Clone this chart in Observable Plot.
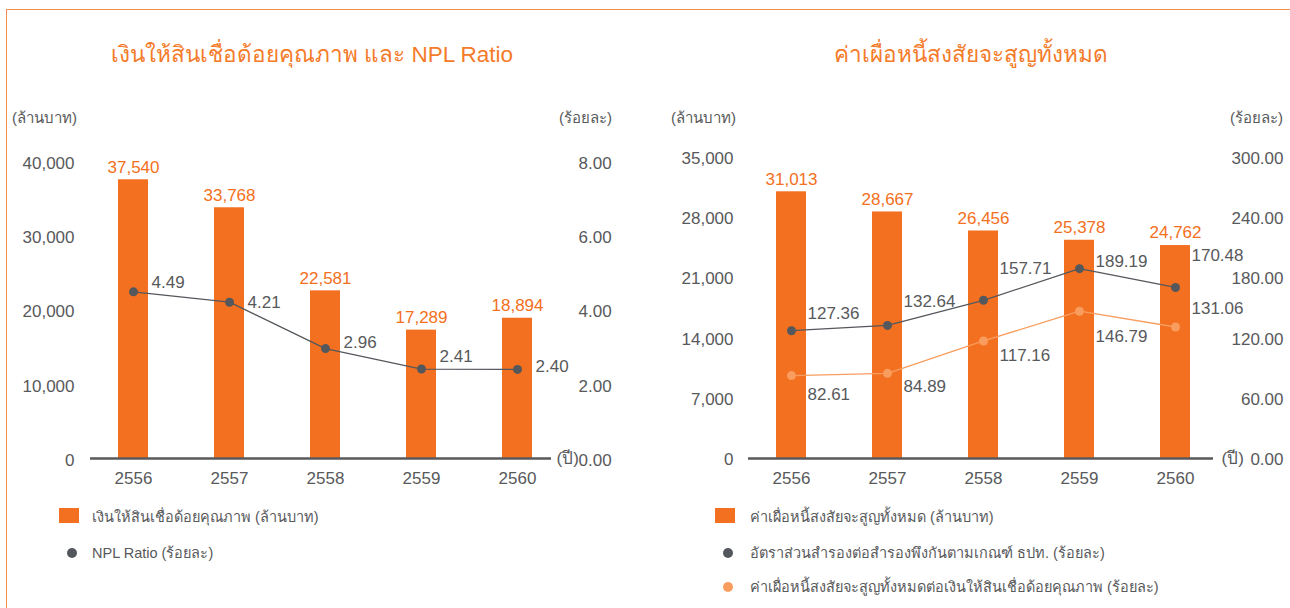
<!DOCTYPE html>
<html><head><meta charset="utf-8">
<script src="https://cdn.jsdelivr.net/npm/d3@7"></script>
<script src="https://cdn.jsdelivr.net/npm/@observablehq/plot@0.6"></script>
<style>
body{margin:0;width:1290px;height:608px;overflow:hidden;background:#fff;font-family:"Liberation Sans",Arial,sans-serif;position:relative;}
#frame{position:absolute;left:6px;top:9px;width:1300px;height:620px;border-top:1.5px solid #f58d4e;border-left:1.5px solid #f58d4e;}
.abs{position:absolute;white-space:nowrap;}
.title{color:#f47b2a;font-size:22.5px;transform:translate(-50%,-50%);}
.unit{font-size:15px;color:#58595b;transform:translateY(-50%);}
.unitR{font-size:15px;color:#58595b;transform:translate(-100%,-50%);}
.leg{font-size:14.5px;color:#58595b;transform:translateY(-50%);}
.sq{position:absolute;width:20px;height:15px;background:#f37021;}
.dot{position:absolute;width:10px;height:10px;border-radius:50%;transform:translate(-50%,-50%);}
.plot{position:absolute;top:130px;}
</style>
</head><body>
<div id="frame"></div>
<div class="abs title" style="left:312px;top:54px">เงินให้สินเชื่อด้อยคุณภาพ และ NPL Ratio</div>
<div class="abs title" style="left:971px;top:54px">ค่าเผื่อหนี้สงสัยจะสูญทั้งหมด</div>
<div class="abs unit" style="left:12px;top:118px">(ล้านบาท)</div>
<div class="abs unitR" style="left:612px;top:118px">(ร้อยละ)</div>
<div class="abs unit" style="left:671px;top:118px">(ล้านบาท)</div>
<div class="abs unitR" style="left:1283px;top:118px">(ร้อยละ)</div>

<div class="sq" style="left:59px;top:508px"></div>
<div class="abs leg" style="left:92px;top:516px">เงินให้สินเชื่อด้อยคุณภาพ (ล้านบาท)</div>
<div class="dot" style="left:72px;top:553px;background:#54585c"></div>
<div class="abs leg" style="left:92px;top:552px">NPL Ratio (ร้อยละ)</div>

<div class="sq" style="left:715px;top:508px"></div>
<div class="abs leg" style="left:750px;top:516px">ค่าเผื่อหนี้สงสัยจะสูญทั้งหมด (ล้านบาท)</div>
<div class="dot" style="left:728px;top:553px;background:#54585c"></div>
<div class="abs leg" style="left:750px;top:552px">อัตราส่วนสำรองต่อสำรองพึงกันตามเกณฑ์ ธปท. (ร้อยละ)</div>
<div class="dot" style="left:728px;top:587px;background:#f89d5e"></div>
<div class="abs leg" style="left:750px;top:586px">ค่าเผื่อหนี้สงสัยจะสูญทั้งหมดต่อเงินให้สินเชื่อด้อยคุณภาพ (ร้อยละ)</div>

<div id="left" class="plot" style="left:0px"></div>
<div id="right" class="plot" style="left:645px"></div>

<script>
// ---- data ----
const years = ["2556","2557","2558","2559","2560"];
const nplAmount = [37540, 33768, 22581, 17289, 18894];
const nplRatio = [4.49, 4.21, 2.96, 2.41, 2.40];
const allowance = [31013, 28667, 26456, 25378, 24762];
const coverageBOT = [127.36, 132.64, 157.71, 189.19, 170.48];
const coverageNPL = [82.61, 84.89, 117.16, 146.79, 131.06];
const leftTicks = [0, 10000, 20000, 30000, 40000];
const rightTicks = [0, 7000, 14000, 21000, 28000, 35000];

// ---- styling / layout ----
const ORANGE = "#f37021", DARK = "#54585c", LIGHT = "#f89d5e", GRAY = "#58595b";
const nplDy = [-9, 0, -6, -12, -3];
const botDy = [-17, -24, -32, -7, -32];
const covDy = [19, 13, 15, 25, -18];

const leftData = years.map((y, i) => ({year: y, amount: nplAmount[i], ratio: nplRatio[i]}));
const rightData = years.map((y, i) => ({year: y, amount: allowance[i], bot: coverageBOT[i], cov: coverageNPL[i]}));

const fmt = d3.format(",");
const leftK = 40000 / 8;
const rightK = 35000 / 300;

const leftPlot = Plot.plot({
  width: 645, height: 370,
  marginTop: 31, marginBottom: 42, marginLeft: 90, marginRight: 94,
  style: {fontFamily: "'Liberation Sans', Arial, sans-serif", fontSize: "17px", color: GRAY, background: "transparent", overflow: "visible"},
  x: {type: "band", domain: years, range: [84, 565], padding: 0, label: null},
  y: {domain: [0, 40000], label: null},
  marks: [
    Plot.barY(leftData, {x: "year", y: "amount", fill: ORANGE, insetLeft: 33, insetRight: 33}),
    Plot.ruleY([0], {stroke: GRAY, strokeWidth: 2.5}),
    Plot.axisY(leftTicks, {tickSize: 0, tickPadding: 16, tickFormat: fmt, fontSize: 17, dy: 2, label: null}),
    Plot.axisY(leftTicks, {anchor: "right", tickSize: 0, tickPadding: 27, tickFormat: d => (d / leftK).toFixed(2), fontSize: 17, dy: 2, label: null}),
    Plot.axisX({tickSize: 0, tickPadding: 13, fontSize: 17, label: null}),
    Plot.text(["(ปี)"], {frameAnchor: "bottom-right", dx: 5, dy: 5, textAnchor: "start", fontSize: 17, fill: GRAY}),
    Plot.text(leftData, {x: "year", y: "amount", text: d => fmt(d.amount), dy: -12.5, fill: ORANGE, fontSize: 17}),
    Plot.line(leftData, {x: "year", y: d => d.ratio * leftK, stroke: DARK, strokeWidth: 1.3}),
    Plot.dot(leftData, {x: "year", y: d => d.ratio * leftK, r: 4.5, fill: DARK}),
    ...leftData.map((d, i) => Plot.text([d], {x: "year", y: d => d.ratio * leftK, text: d => d.ratio.toFixed(2), dx: 18, dy: nplDy[i], textAnchor: "start", fill: GRAY, fontSize: 17}))
  ]
});
document.getElementById("left").appendChild(leftPlot);

const rightPlot = Plot.plot({
  width: 645, height: 370,
  marginTop: 27, marginBottom: 42, marginLeft: 103, marginRight: 77,
  style: {fontFamily: "'Liberation Sans', Arial, sans-serif", fontSize: "17px", color: GRAY, background: "transparent", overflow: "visible"},
  x: {type: "band", domain: years, range: [96.6, 578.7], padding: 0, label: null},
  y: {domain: [0, 35000], label: null},
  marks: [
    Plot.barY(rightData, {x: "year", y: "amount", fill: ORANGE, insetLeft: 33, insetRight: 33}),
    Plot.ruleY([0], {stroke: GRAY, strokeWidth: 2.5}),
    Plot.axisY(rightTicks, {tickSize: 0, tickPadding: 15, tickFormat: fmt, fontSize: 17, dy: 1, label: null}),
    Plot.axisY(rightTicks, {anchor: "right", tickSize: 0, tickPadding: 70, textAnchor: "end", tickFormat: d => (d / rightK).toFixed(2), fontSize: 17, dy: 1, label: null}),
    Plot.axisX({tickSize: 0, tickPadding: 13, fontSize: 17, label: null}),
    Plot.text(["(ปี)"], {frameAnchor: "bottom-right", dx: 8, dy: 5, textAnchor: "start", fontSize: 17, fill: GRAY}),
    Plot.text(rightData, {x: "year", y: "amount", text: d => fmt(d.amount), dy: -12.5, fill: ORANGE, fontSize: 17}),
    Plot.line(rightData, {x: "year", y: d => d.bot * rightK, stroke: DARK, strokeWidth: 1.3}),
    Plot.dot(rightData, {x: "year", y: d => d.bot * rightK, r: 4.5, fill: DARK}),
    Plot.line(rightData, {x: "year", y: d => d.cov * rightK, stroke: LIGHT, strokeWidth: 1.3}),
    Plot.dot(rightData, {x: "year", y: d => d.cov * rightK, r: 4.5, fill: LIGHT}),
    ...rightData.map((d, i) => Plot.text([d], {x: "year", y: d => d.bot * rightK, text: d => d.bot.toFixed(2), dx: 16, dy: botDy[i], textAnchor: "start", fill: GRAY, fontSize: 17})),
    ...rightData.map((d, i) => Plot.text([d], {x: "year", y: d => d.cov * rightK, text: d => d.cov.toFixed(2), dx: 16, dy: covDy[i], textAnchor: "start", fill: GRAY, fontSize: 17}))
  ]
});
document.getElementById("right").appendChild(rightPlot);
</script>
</body></html>
